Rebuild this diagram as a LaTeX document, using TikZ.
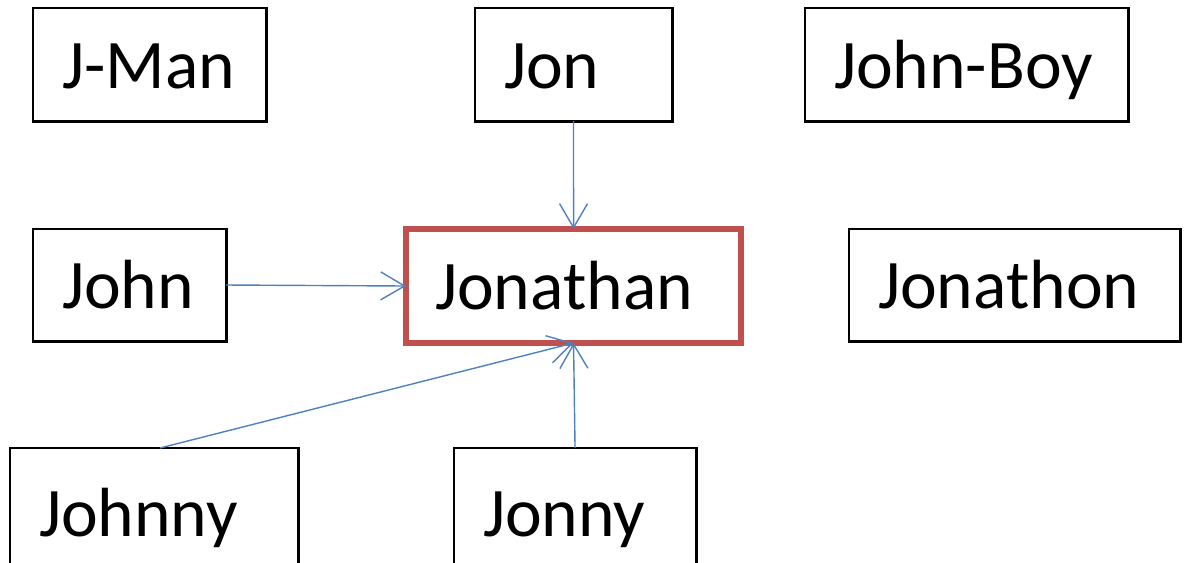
\documentclass[tikz,border=0pt]{standalone}
\usepackage{fontspec}
\setmainfont{Carlito}
\usepackage{xcolor}
\usetikzlibrary{arrows.meta}
\definecolor{boxred}{HTML}{C0504D}
\definecolor{linkblue}{HTML}{4F81BD}

\begin{document}
\begin{tikzpicture}[x=0.025cm,y=-0.025cm,
  namebox/.style={draw=black,line width=2.1pt,anchor=north west,inner sep=0pt,outer sep=0pt,
    align=left,text height=1.45cm,text depth=0.275cm,
    font=\fontsize{49.5}{58}\selectfont},
  link/.style={draw=linkblue,line width=1pt,-{Straight Barb[length=0.6cm,width=0.7cm]}}]
\useasboundingbox (0,0) rectangle (1187,563);
\clip (0,0) rectangle (1187,563);
% top row
\node [namebox,minimum width=5.825cm,minimum height=2.825cm,text width=4.375cm] (jman) at (33,8) {J-Man};
\node [namebox,minimum width=4.925cm,minimum height=2.825cm,text width=3.475cm] (jon) at (475,8) {Jon};
\node [namebox,minimum width=8.075cm,minimum height=2.825cm,text width=6.625cm] (johnboy) at (805,8) {John-Boy};
% middle row
\node [namebox,minimum width=4.825cm,minimum height=2.8cm,text width=3.375cm] (john) at (33,229) {John};
\node [namebox,draw=boxred,line width=4.3pt,minimum width=8.375cm,minimum height=2.85cm,text width=6.925cm] (jonathan) at (406,229) {Jonathan};
\node [namebox,minimum width=8.275cm,minimum height=2.8cm,text width=6.825cm] (jonathon) at (849,229) {Jonathon};
% bottom row
\node [namebox,minimum width=7.2cm,minimum height=3.25cm,text width=5.75cm] (johnny) at (10,448) {Johnny};
\node [namebox,minimum width=6.05cm,minimum height=3.25cm,text width=4.6cm] (jonny) at (454,448) {Jonny};
% links
\draw [link] (jon.south) -- (jonathan.north);
\draw [link] (john.east) -- (jonathan.west);
\draw [link] ([xshift=0.15cm]johnny.north) -- (jonathan.south);
\draw [link] (jonny.north) -- (jonathan.south);
\end{tikzpicture}
\end{document}
